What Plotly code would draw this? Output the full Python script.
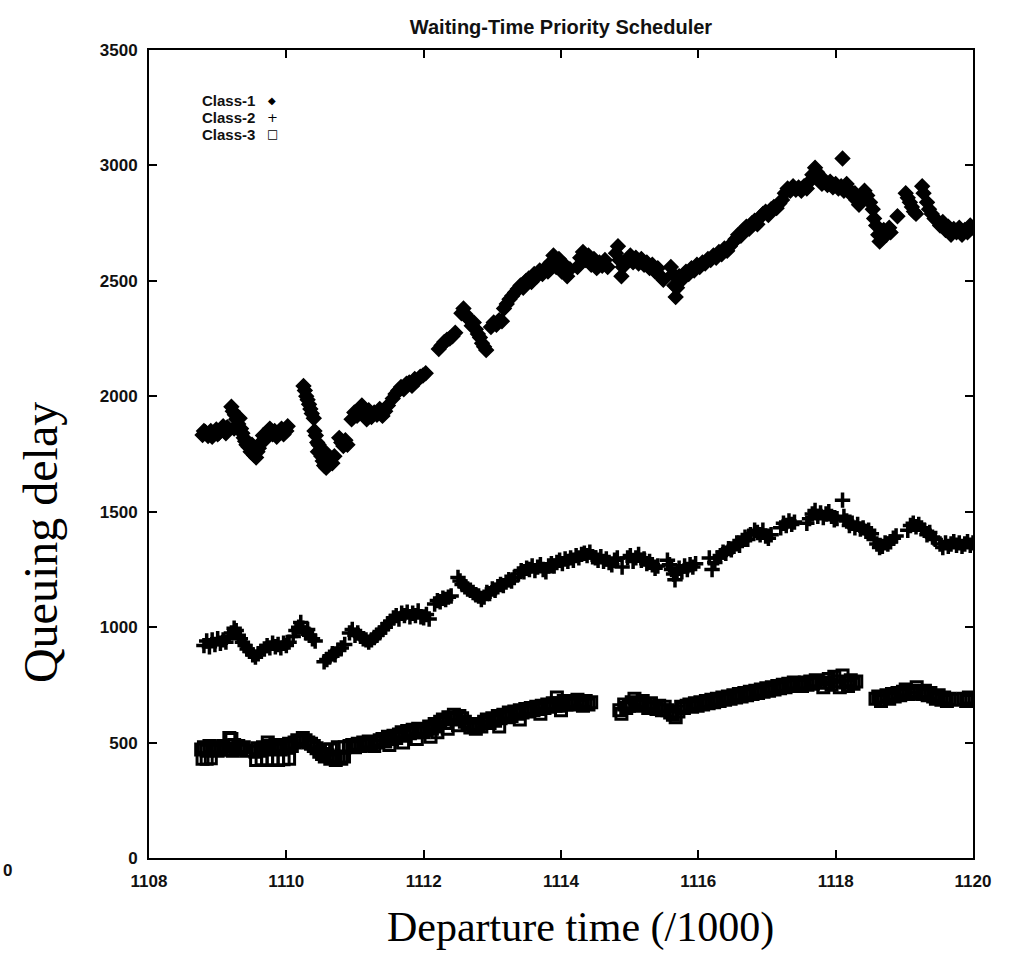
import plotly.graph_objects as go

# ---------------- data ----------------
c1_x = [1108.78,1108.82,1108.86,1108.90,1108.94,1108.98,1109.02,1109.06,1109.10,1109.14,
        1108.80,1108.92,1109.00,1109.08,1109.12,
        1109.20,1109.22,1109.25,1109.27,1109.30,1109.32,1109.34,1109.36,1109.38,1109.40,1109.42,1109.24,1109.29,
        1109.45,1109.48,1109.50,1109.53,1109.56,1109.58,1109.60,
        1109.63,1109.66,1109.70,1109.73,1109.76,1109.80,1109.83,1109.86,1109.90,1109.93,1109.96,1110.00,1110.02,
        1110.25,1110.27,1110.29,1110.31,1110.33,1110.35,1110.37,1110.40,
        1110.41,1110.43,1110.45,1110.47,1110.49,1110.51,1110.53,1110.55,1110.58,1110.61,1110.64,1110.67,1110.70,1110.46,1110.56,
        1110.77,1110.80,1110.83,1110.86,1110.89,
        1110.95,1110.99,1111.03,1111.07,1111.10,1111.13,1111.17,1111.20,1111.24,1111.28,1111.32,1111.36,1111.40,1111.44,1111.48,
        1111.55,1111.59,1111.63,1111.67,1111.71,1111.75,1111.79,1111.83,1111.87,1111.91,1111.95,1111.99,1112.03,
        1112.22,1112.26,1112.30,1112.34,1112.38,1112.42,1112.46,
        1112.55,1112.58,1112.61,1112.64,1112.67,1112.70,1112.73,1112.76,1112.79,1112.82,1112.85,1112.88,1112.91,
        1112.98,1113.02,1113.06,1113.10,1113.14,
        1113.17,1113.21,1113.25,1113.29,1113.33,1113.37,1113.41,1113.45,1113.49,1113.53,1113.57,1113.61,1113.65,1113.69,1113.73,1113.77,1113.81,
        1113.85,1113.89,1113.93,1113.97,1114.01,1114.05,1114.09,1114.13,
        1114.24,1114.28,1114.32,1114.36,1114.40,1114.44,1114.48,1114.52,1114.56,1114.60,1114.64,1114.68,
        1114.80,1114.83,1114.85,1114.88,1114.90,
        1114.97,1115.01,1115.05,1115.09,1115.13,1115.17,1115.21,1115.25,1115.29,1115.33,1115.37,1115.41,1115.45,1115.49,
        1115.60,1115.63,1115.65,1115.67,1115.69,1115.72,
        1115.78,1115.82,1115.86,1115.90,1115.94,1115.98,1116.02,1116.06,1116.10,1116.14,1116.18,1116.22,1116.26,1116.30,1116.34,1116.38,1116.42,1116.46,
        1116.50,1116.54,1116.58,1116.62,1116.66,1116.70,1116.74,1116.78,1116.82,1116.86,1116.90,
        1116.94,1116.98,1117.02,1117.06,1117.10,1117.14,1117.18,1117.22,
        1117.26,1117.30,1117.34,1117.38,1117.42,1117.46,1117.50,1117.54,1117.58,1117.62,1117.66,1117.70,1117.73,
        1117.77,1117.80,1117.84,1117.88,1117.92,1117.96,1118.00,1118.04,1118.08,1118.12,1118.10,
        1118.16,1118.20,1118.24,1118.28,1118.30,1118.34,1118.38,1118.42,1118.46,1118.50,1118.54,
        1118.56,1118.59,1118.62,1118.64,1118.67,1118.70,1118.74,1118.78,1118.80,
        1118.90,
        1119.02,1119.05,1119.08,1119.11,1119.14,1119.17,
        1119.26,1119.28,
        1119.33,1119.36,1119.40,1119.44,1119.48,1119.52,1119.56,1119.60,1119.64,1119.68,1119.72,1119.76,1119.80,1119.84,1119.88,1119.92,1119.96,1120.00]
c1_y = [1832,1845,1828,1850,1838,1856,1842,1860,1848,1866,
        1850,1825,1835,1870,1840,
        1955,1935,1920,1900,1880,1905,1860,1840,1820,1805,1790,1860,1870,
        1780,1760,1790,1745,1735,1760,1775,
        1800,1830,1815,1845,1860,1835,1850,1825,1845,1860,1835,1850,1870,
        2045,2025,2000,1985,1965,1945,1925,1905,
        1850,1830,1800,1790,1765,1740,1720,1700,1690,1705,1730,1710,1740,1760,1760,
        1820,1800,1785,1810,1790,
        1900,1930,1915,1945,1960,1925,1900,1940,1910,1930,1920,1945,1915,1935,1960,
        1990,2010,2025,2040,2030,2055,2060,2045,2075,2070,2085,2090,2100,
        2205,2220,2235,2245,2250,2260,2275,
        2360,2380,2355,2340,2330,2305,2320,2290,2270,2255,2230,2215,2200,
        2300,2320,2310,2330,2325,
        2380,2400,2420,2435,2450,2465,2480,2470,2500,2510,2495,2530,2520,2545,2530,2555,2540,
        2580,2610,2560,2595,2540,2570,2520,2550,
        2560,2600,2625,2590,2610,2570,2595,2555,2580,2565,2590,2560,
        2620,2650,2590,2520,2560,
        2590,2610,2580,2600,2575,2595,2570,2580,2555,2570,2540,2555,2520,2505,
        2560,2530,2480,2430,2470,2520,
        2510,2540,2530,2555,2545,2570,2560,2580,2575,2595,2590,2610,2600,2625,2615,2640,2630,2650,
        2665,2680,2700,2695,2720,2735,2725,2750,2760,2745,2775,
        2790,2800,2785,2810,2820,2815,2835,2850,
        2880,2900,2890,2910,2895,2905,2890,2910,2900,2930,2960,2990,2970,
        2940,2920,2935,2915,2930,2905,2920,2900,2910,2890,3030,
        2920,2895,2870,2880,2850,2830,2860,2890,2870,2840,2810,
        2770,2740,2700,2670,2700,2720,2700,2730,2710,
        2780,
        2880,2860,2840,2820,2800,2790,
        2910,2880,
        2840,2810,2790,2770,2760,2740,2755,2720,2735,2700,2725,2710,2730,2700,2720,2710,2740,2730]

c2_x = [1108.80,1108.84,1108.88,1108.92,1108.96,1109.00,1109.04,1109.08,1109.12,1109.16,
        1109.20,1109.24,1109.27,1109.30,1109.33,1109.36,1109.40,1109.43,
        1109.47,1109.51,1109.55,1109.59,1109.63,
        1109.68,1109.72,1109.76,1109.80,1109.84,1109.88,1109.92,1109.96,1110.00,1110.04,
        1110.10,1110.14,1110.18,1110.21,1110.24,1110.28,1110.31,1110.34,1110.38,1110.42,
        1110.55,1110.59,1110.63,1110.67,1110.71,1110.75,1110.80,1110.85,
        1110.92,1110.96,1111.00,1111.04,1111.08,1111.12,1111.16,1111.20,1111.24,
        1111.28,1111.32,1111.36,1111.40,1111.44,1111.48,1111.52,1111.56,1111.60,1111.64,1111.68,1111.72,1111.76,1111.80,1111.84,1111.88,1111.92,1111.96,1112.00,1112.04,1112.08,
        1112.16,1112.20,1112.24,1112.28,1112.32,1112.36,1112.40,
        1112.50,1112.53,1112.56,1112.60,1112.64,1112.68,1112.72,1112.76,1112.80,1112.84,
        1112.88,1112.92,1112.96,1113.00,1113.04,1113.08,1113.12,1113.16,1113.20,1113.24,1113.28,1113.32,
        1113.38,1113.42,1113.46,1113.50,1113.54,1113.58,1113.62,1113.66,1113.70,1113.74,1113.78,1113.82,1113.86,1113.90,1113.94,1113.98,1114.02,1114.06,1114.10,
        1114.14,1114.18,1114.22,1114.26,1114.30,1114.34,1114.38,1114.42,1114.46,1114.50,1114.54,1114.58,1114.62,1114.66,1114.70,1114.74,1114.78,1114.82,
        1114.89,
        1114.97,1115.01,1115.05,1115.09,1115.13,1115.17,1115.21,1115.25,1115.29,1115.33,1115.37,1115.41,
        1115.55,1115.58,1115.61,1115.64,1115.66,1115.69,1115.72,1115.76,1115.80,1115.84,1115.88,1115.92,1115.96,
        1116.16,1116.20,1116.24,
        1116.28,1116.32,1116.36,1116.40,1116.44,1116.48,1116.52,1116.56,1116.60,1116.64,1116.68,1116.72,1116.76,
        1116.82,1116.86,1116.90,1116.94,1116.98,1117.02,1117.06,
        1117.20,1117.24,1117.28,1117.32,1117.36,1117.40,
        1117.58,1117.62,1117.66,1117.70,1117.74,1117.78,1117.82,1117.86,1117.90,1117.94,1117.98,1118.02,
        1118.10,
        1118.12,1118.16,1118.20,1118.24,1118.28,1118.32,1118.36,1118.40,1118.44,1118.48,1118.52,
        1118.56,1118.60,1118.64,1118.68,1118.72,1118.76,1118.80,1118.84,1118.88,
        1119.05,1119.09,1119.13,1119.17,1119.21,1119.25,1119.29,1119.33,1119.37,1119.41,1119.45,
        1119.52,1119.56,1119.60,1119.64,1119.68,1119.72,1119.76,1119.80,1119.84,1119.88,1119.92,1119.96,1120.00]
c2_y = [920,940,915,945,925,950,930,945,935,960,
        975,995,985,965,950,935,920,905,
        895,880,870,885,895,
        905,920,910,930,915,925,910,930,920,935,
        960,985,1000,1020,995,975,990,965,950,940,
        850,860,870,885,880,900,910,925,
        975,990,965,975,960,950,945,935,945,
        955,965,975,990,1000,1015,1025,1040,1050,1035,1060,1050,1065,1045,1060,1050,1070,1045,1040,1055,1035,
        1100,1115,1110,1125,1120,1130,1135,
        1215,1200,1185,1175,1165,1160,1150,1140,1135,1120,
        1130,1150,1145,1165,1160,1175,1185,1180,1195,1205,1200,1215,
        1230,1245,1240,1255,1250,1265,1245,1260,1270,1250,1240,1265,1275,1265,1280,1290,1275,1295,1285,
        1300,1290,1310,1300,1315,1320,1310,1325,1305,1300,1290,1305,1285,1295,1280,1270,1290,1300,
        1260,
        1300,1310,1285,1300,1315,1290,1295,1275,1285,1270,1255,1265,
        1290,1270,1250,1230,1205,1240,1255,1240,1265,1250,1270,1260,1275,
        1300,1250,1280,
        1300,1310,1325,1320,1340,1335,1350,1365,1355,1375,1390,1380,1400,
        1420,1410,1400,1420,1395,1385,1400,
        1430,1450,1440,1460,1445,1455,
        1450,1470,1490,1505,1480,1495,1475,1490,1500,1480,1465,1470,
        1550,
        1480,1460,1440,1450,1430,1445,1425,1430,1415,1420,1405,
        1380,1360,1345,1350,1365,1360,1370,1385,1395,
        1420,1440,1450,1435,1445,1430,1420,1400,1410,1390,1380,
        1360,1345,1365,1350,1360,1370,1355,1365,1350,1360,1370,1355,1365]

c3_x = [1108.76,1108.80,1108.84,1108.88,1108.92,1108.96,1109.00,1109.04,1109.08,1109.12,1108.78,1108.84,1108.90,
        1109.17,1109.20,1109.24,1109.18,1109.22,1109.26,
        1109.30,1109.34,1109.38,1109.42,
        1109.55,1109.58,1109.62,1109.66,1109.70,1109.73,1109.76,1109.80,1109.84,1109.88,1109.92,1109.96,1110.00,1110.04,1110.08,
        1109.56,1109.64,1109.72,1109.80,1109.88,1109.96,1110.04,
        1110.12,1110.16,1110.20,1110.24,1110.28,1110.32,1110.36,1110.40,1110.44,
        1110.48,1110.52,1110.56,1110.60,1110.64,1110.68,1110.72,1110.76,1110.80,1110.84,
        1110.55,1110.65,1110.75,1110.85,1110.92,
        1110.96,1111.00,1111.04,1111.08,1111.12,1111.16,1111.20,1111.24,1111.28,1111.32,1111.36,
        1111.40,1111.44,1111.48,1111.52,1111.56,1111.60,1111.64,1111.68,1111.72,1111.76,1111.80,1111.84,1111.88,1111.92,1111.96,1112.00,1112.04,1112.08,1112.12,
        1111.50,1111.70,1111.90,1112.10,
        1112.16,1112.20,1112.24,1112.28,1112.32,1112.36,1112.40,1112.44,1112.48,1112.52,1112.56,1112.60,
        1112.20,1112.35,1112.50,
        1112.64,1112.68,1112.72,1112.76,1112.80,1112.84,
        1112.88,1112.92,1112.96,1113.00,1113.04,1113.08,1113.12,1113.16,1113.20,1113.24,1113.28,1113.32,1113.36,1113.40,1113.44,1113.48,1113.52,1113.56,1113.60,1113.64,1113.68,1113.72,1113.76,1113.80,1113.84,1113.88,1113.92,1113.94,1113.96,1114.00,1114.04,1114.08,1114.12,
        1113.10,1113.40,1113.70,1114.00,
        1114.16,1114.20,1114.24,1114.28,1114.32,1114.36,1114.40,1114.44,
        1114.85,1114.88,1114.92,1114.95,
        1114.99,1115.03,1115.07,1115.11,1115.15,1115.19,1115.23,1115.27,1115.31,1115.35,1115.39,1115.43,1115.47,1115.51,1115.55,1115.59,1115.63,1115.67,1115.71,1115.75,1115.79,
        1115.83,1115.87,1115.91,1115.95,1115.99,1116.03,1116.07,1116.11,1116.15,1116.19,1116.23,1116.27,1116.31,1116.35,1116.39,1116.43,1116.47,1116.51,1116.55,1116.59,1116.63,1116.67,
        1116.71,1116.75,1116.79,1116.83,1116.87,1116.91,1116.95,1116.99,1117.03,1117.07,1117.11,1117.15,1117.19,1117.23,1117.27,1117.31,1117.35,1117.39,1117.43,1117.47,1117.51,1117.55,1117.59,1117.63,1117.67,1117.71,1117.75,
        1117.82,1117.86,1117.90,1117.94,1117.98,1118.02,1118.06,1118.10,1118.14,1118.18,1118.22,1118.26,1118.30,
        1118.58,1118.62,1118.66,1118.70,1118.74,1118.78,1118.82,1118.86,1118.90,1118.94,1118.98,1119.02,1119.06,1119.10,1119.14,1119.18,1119.22,1119.26,1119.30,1119.34,1119.38,1119.42,1119.46,1119.50,1119.54,1119.58,1119.62,1119.66,1119.70,
        1119.86,1119.90,1119.94,1119.98]
c3_y = [470,480,465,485,470,480,465,475,485,470,430,430,432,
        520,515,490,470,465,475,
        485,470,480,465,
        460,475,465,480,470,500,485,475,490,480,470,490,480,495,485,
        425,428,425,428,425,428,430,
        500,510,505,520,510,500,495,485,475,
        460,450,440,445,430,440,425,435,430,440,
        470,470,480,480,485,
        490,480,495,485,500,490,505,495,485,500,510,
        515,505,525,515,530,520,535,545,530,550,540,555,545,560,550,545,555,570,560,
        490,500,515,525,
        580,570,590,600,585,610,605,620,600,615,605,590,
        545,560,575,
        580,565,575,560,580,570,
        590,600,585,605,595,615,605,620,610,630,615,635,625,640,630,645,635,650,640,655,645,660,650,665,655,670,660,695,670,660,680,665,675,
        570,600,625,640,
        680,665,685,670,660,680,665,675,
        640,625,665,650,
        660,675,690,670,660,680,665,650,670,655,645,660,640,655,640,630,620,610,635,655,650,
        660,665,655,670,660,675,665,680,670,685,675,690,680,695,685,700,690,705,695,710,700,715,
        705,720,710,725,715,730,720,735,725,740,730,745,735,750,740,755,745,760,750,755,745,760,750,765,755,770,760,
        740,760,775,750,785,765,740,790,760,745,770,755,765,
        690,700,680,695,705,690,710,700,715,705,720,730,710,725,715,740,720,710,725,705,715,700,690,705,685,695,680,690,685,
        690,680,695,685]

series_names = ["Class-1", "Class-2", "Class-3"]
x_ticks = [1108, 1110, 1112, 1114, 1116, 1118, 1120]
y_ticks = [0, 500, 1000, 1500, 2000, 2500, 3000, 3500]

# ---------------- figure ----------------
fig = go.Figure()
fig.add_trace(go.Scatter(x=c1_x, y=c1_y, mode="markers", name=series_names[0],
                         marker=dict(symbol="diamond", size=11, color="black",
                                     line=dict(color="black", width=1.5))))
fig.add_trace(go.Scatter(x=c2_x, y=c2_y, mode="markers", name=series_names[1],
                         marker=dict(symbol="cross-thin", size=11, color="black",
                                     line=dict(color="black", width=3.5))))
fig.add_trace(go.Scatter(x=c3_x, y=c3_y, mode="markers", name=series_names[2],
                         marker=dict(symbol="square-open", size=11, color="black",
                                     line=dict(color="black", width=3))))

tickfont = dict(family="Liberation Sans, Arial, sans-serif", size=17, color="#111111",
                weight="bold")
axis_common = dict(showgrid=False, zeroline=False, showline=True, mirror="ticks",
                   linecolor="black", linewidth=2, ticks="inside", ticklen=8,
                   tickwidth=1.5, tickcolor="black", tickfont=tickfont)

fig.update_layout(
    width=1013, height=959, autosize=False,
    paper_bgcolor="white", plot_bgcolor="white",
    margin=dict(l=149, r=40, t=50, b=101),
    showlegend=False,
    title=dict(text="Waiting-Time Priority Scheduler", x=0.5, xref="paper",
               xanchor="center", y=1 - 27 / 959, yref="container", yanchor="middle",
               font=dict(family="Liberation Sans, Arial, sans-serif", size=20,
                         color="#111111", weight="bold")),
    xaxis=dict(range=[1108, 1120], tickvals=x_ticks, ticktext=[str(v) for v in x_ticks],
               ticklabelstandoff=7, **axis_common),
    yaxis=dict(range=[0, 3500], tickvals=y_ticks, ticktext=[str(v) for v in y_ticks],
               ticklabelstandoff=6, **axis_common),
)

ann = []
# axis titles (Times-like serif)
ann.append(dict(text="Departure time (/1000)", xref="paper", yref="paper", x=0.524, y=-0.0866,
                xanchor="center", yanchor="middle", showarrow=False,
                font=dict(family="Liberation Serif, Times New Roman, serif", size=42, color="black")))
ann.append(dict(text="Queuing delay", xref="paper", yref="paper", x=-0.1323, y=0.391,
                xanchor="center", yanchor="middle", showarrow=False, textangle=-90,
                font=dict(family="Liberation Serif, Times New Roman, serif", size=48, color="black")))
# legend (text first, then symbol, as in the reference)
leg_font = dict(family="Liberation Sans, Arial, sans-serif", size=15, color="#111111",
                weight="bold")
leg_y = [0.938, 0.917, 0.896]
leg_sym = ["\u25c6", "+", "\u25a1"]
leg_sym_size = [10, 13, 12]
for name, yy, sym, ss in zip(series_names, leg_y, leg_sym, leg_sym_size):
    ann.append(dict(text=name, xref="paper", yref="paper", x=0.131, y=yy,
                    xanchor="right", yanchor="middle", showarrow=False, font=leg_font))
    ann.append(dict(text=sym, xref="paper", yref="paper", x=0.1493, y=yy,
                    xanchor="center", yanchor="middle", showarrow=False,
                    font=dict(family="DejaVu Sans, sans-serif", size=ss, color="black")))
# stray "0" from neighbouring panel at the far left edge
ann.append(dict(text="0", xref="paper", yref="paper", x=-0.1796, y=-0.0149,
                xanchor="left", yanchor="middle", showarrow=False, font=tickfont))
fig.update_layout(annotations=ann)

fig.write_html("out.html")
